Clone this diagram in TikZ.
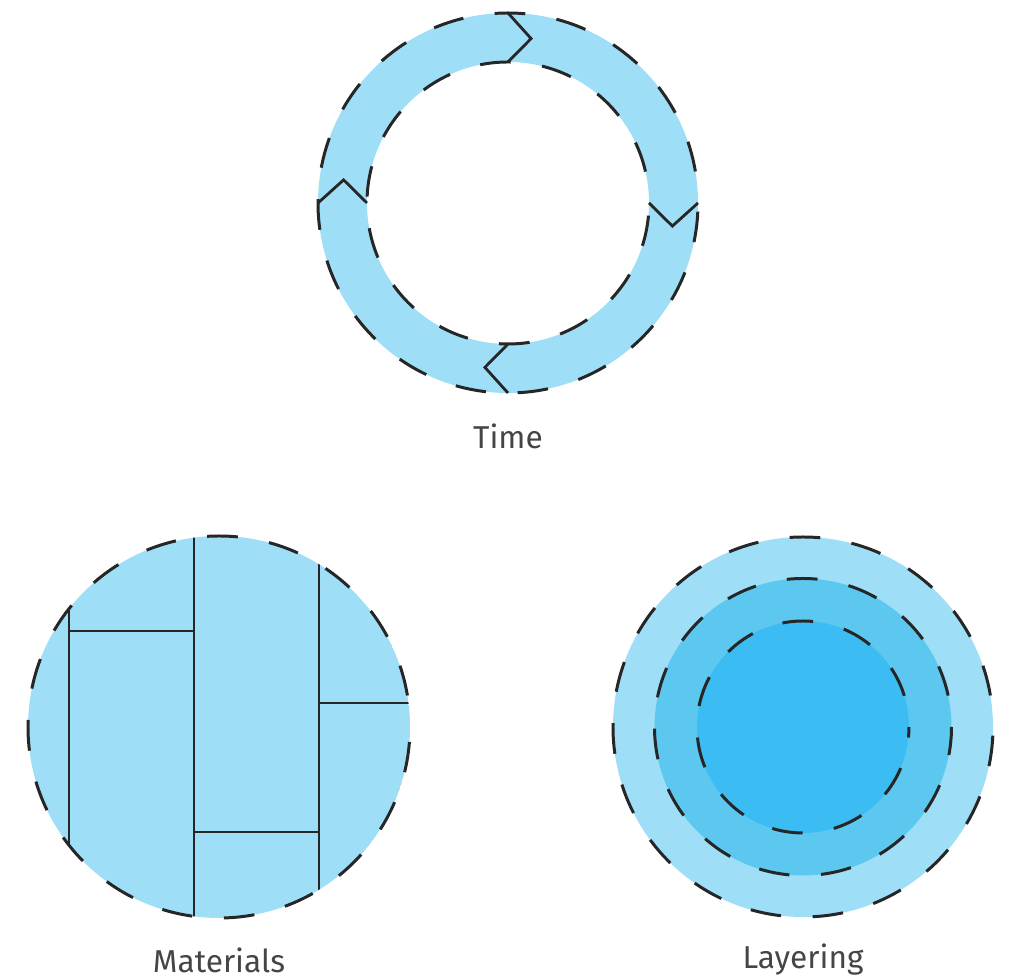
\documentclass[tikz,border=0pt]{standalone}
\usepackage{fontspec}
\setmainfont{Fira Sans}
\definecolor{paleblue}{HTML}{9EDFF7}
\definecolor{midblue}{HTML}{5CC8F0}
\definecolor{deepblue}{HTML}{3BBCF2}
\definecolor{inkgray}{HTML}{454545}
\tikzset{
  dashring/.style={line width=1.7pt, draw=black!85, dash pattern=on 17.5pt off 18pt, dash phase=17.5pt},
  joint/.style={line width=0.8pt, draw=black!85},
  notch/.style={line width=1.6pt, draw=black!85, line join=miter},
  titletext/.style={text=inkgray, font=\fontsize{18}{22}\selectfont, inner sep=0pt}
}

\begin{document}
\begin{tikzpicture}[scale=1]
\useasboundingbox (0,0) rectangle (20.22,19.6);

% Centres
\coordinate (T) at (10.16,15.54);
\coordinate (M) at (4.38,5.06);
\coordinate (L) at (16.06,5.06);

% Time
\fill[paleblue, even odd rule] (T) circle (3.8) (T) circle (2.82);
\draw[dashring] (T) circle (3.8);
\draw[dashring] (T) circle (2.82);
\begin{scope}[shift={(T)}]
\foreach \a in {0,90,180,270}
  \draw[notch] (\a:3.8) -- (\a-8:3.32) -- (\a:2.82);
\end{scope}
\node[titletext] (time) at (10.16,10.88) {Time};

% Materials
\begin{scope}
\clip (M) circle (3.82);
\fill[paleblue] (M) circle (3.82);
\draw[joint] (1.38,0) -- (1.38,10);
\draw[joint] (1.38,6.98) -- (3.88,6.98);
\draw[joint] (3.88,0) -- (3.88,10);
\draw[joint] (3.88,2.96) -- (6.38,2.96);
\draw[joint] (6.38,0) -- (6.38,10);
\draw[joint] (6.38,5.54) -- (9,5.54);
\end{scope}
\draw[dashring] (M) circle (3.82);
\node[titletext] (materials) at (4.38,0.4) {Materials};

% Layering
\fill[paleblue] (L) circle (3.8);
\fill[midblue] (L) circle (2.97);
\fill[deepblue] (L) circle (2.12);
\draw[dashring] (L) circle (3.8);
\draw[dashring] (L) circle (2.97);
\draw[dashring] (L) circle (2.12);
\node[titletext] (layering) at (16.06,0.4) {Layering};

\end{tikzpicture}
\end{document}
